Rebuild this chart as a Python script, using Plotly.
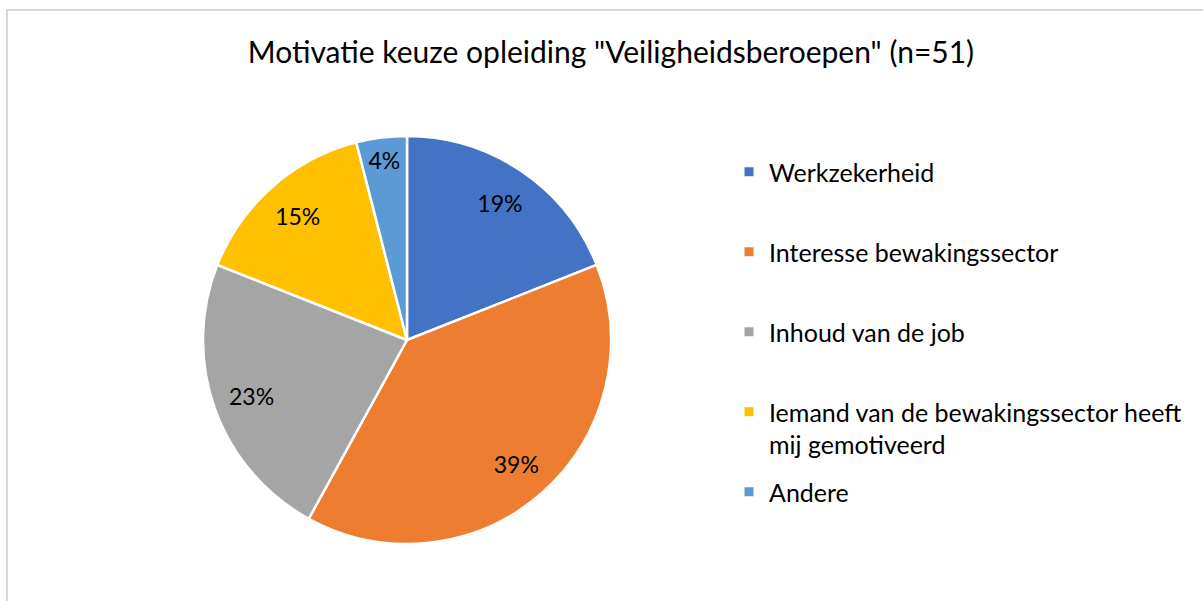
import plotly.graph_objects as go

labels = ["Werkzekerheid", "Interesse bewakingssector", "Inhoud van de job",
          "Iemand van de bewakingssector heeft<br>mij gemotiveerd", "Andere"]
values = [19, 39, 23, 15, 4]
colors = ["#4472C4", "#ED7D31", "#A5A5A5", "#FFC000", "#5B9BD5"]
title_text = 'Motivatie keuze opleiding "Veiligheidsberoepen" (n=51)'

W, H = 1203, 601
FONT = "Lato, Carlito, Calibri, sans-serif"

pie_domain = dict(x=[203 / W, 611 / W], y=[(H - 544) / H, (H - 136) / H])

# slices
fig = go.Figure()
fig.add_trace(go.Pie(
    labels=labels, values=values, sort=False, direction="clockwise", rotation=0,
    marker=dict(colors=colors, line=dict(color="white", width=2.5)),
    textinfo="none", domain=pie_domain, showlegend=False, hoverinfo="label+percent",
))
# transparent ring only used to place the percentage labels near the outer edge
fig.add_trace(go.Pie(
    labels=labels, values=values, sort=False, direction="clockwise", rotation=0,
    hole=0.62,
    marker=dict(colors=["rgba(0,0,0,0)"] * len(values), line=dict(width=0)),
    texttemplate="%{percent:.0%}", textposition="inside", insidetextorientation="horizontal",
    textfont=dict(family=FONT, size=23, color="#000000"),
    domain=pie_domain, showlegend=False, hoverinfo="skip",
))

legend_y = [172, 252, 332, 412, 492]
layout_legends = {}
for i, (lab, col) in enumerate(zip(labels, colors)):
    name = "legend" if i == 0 else f"legend{i + 1}"
    fig.add_trace(go.Scatter(
        x=[None], y=[None], mode="markers", name=lab,
        marker=dict(symbol="square", size=9, color=col),
        legend=name, showlegend=True,
    ))
    layout_legends[name] = dict(
        x=729 / W, xanchor="left",
        y=1 - legend_y[i] / H, yanchor="middle",
        font=dict(family=FONT, size=25, color="#000000"),
        bgcolor="rgba(0,0,0,0)", valign="top",
        itemsizing="trace",
    )
layout_legends["legend4"]["y"] = 1 - (legend_y[3] + 16) / H

fig.update_layout(
    width=W, height=H,
    margin=dict(l=0, r=0, t=0, b=0),
    paper_bgcolor="white", plot_bgcolor="white",
    title=dict(text=title_text, x=611 / W, xanchor="center", y=1 - 52 / H, yanchor="middle",
               font=dict(family=FONT, size=30, color="#000000")),
    xaxis=dict(visible=False), yaxis=dict(visible=False),
    shapes=[dict(type="rect", xref="paper", yref="paper",
                 x0=7 / W, x1=1.05, y0=-0.05, y1=1 - 10 / H,
                 line=dict(color="#D9D9D9", width=2), fillcolor="rgba(0,0,0,0)", layer="below")],
    **layout_legends,
)

fig.write_html("out.html", config={"displayModeBar": False},
               post_script="document.body.style.margin='0';")
